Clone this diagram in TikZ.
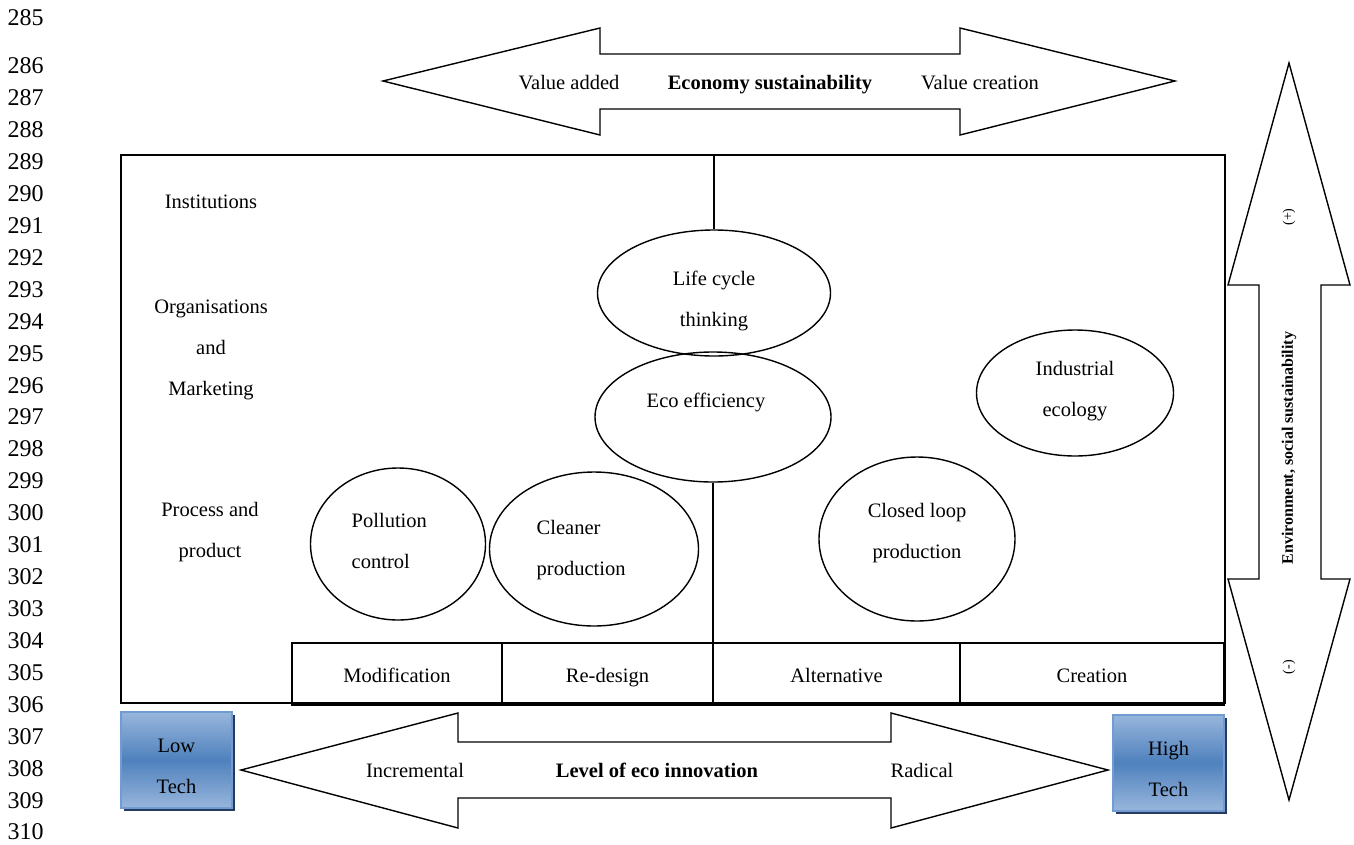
\documentclass[tikz,border=0pt]{standalone}
\usepackage{fontspec}
\setmainfont{Liberation Serif}
\usetikzlibrary{shapes.geometric, shadows}
\definecolor{techlight}{RGB}{152,182,220}
\definecolor{techdark}{RGB}{79,129,189}
\definecolor{techedge}{RGB}{112,156,210}
\definecolor{techshadow}{RGB}{38,58,96}
\tikzstyle{lineno} = [anchor=west, inner sep=0pt, font=\fontsize{24}{28}\selectfont]
\tikzstyle{txt} = [inner sep=0pt, align=center]
\tikzstyle{oneline} = [inner sep=0pt, text height=20pt, text depth=4pt]
\tikzstyle{bubble} = [ellipse, draw, inner sep=0pt]
\tikzstyle{level} = [rectangle, draw, minimum height=62pt, inner sep=0pt, text height=20pt, text depth=4pt]
\tikzstyle{tech} = [rectangle, draw=techedge, line width=2pt, top color=techlight, bottom color=techlight, middle color=techdark, minimum width=111pt, minimum height=96pt, drop shadow={shadow xshift=3pt, shadow yshift=-3pt, fill=techshadow, opacity=1}]
\tikzstyle{blockarrow} = [draw, fill=white, line join=miter]

\begin{document}
\begin{tikzpicture}[x=1pt, y=-1pt, line width=1.4pt, font=\fontsize{20.5}{41}\selectfont]
            \useasboundingbox (0,0) rectangle (1354,844);

            % line numbers of the page
            \node [lineno] (ln285) at (7,18) {285};
            \foreach \n in {286,...,310}
                \node [lineno] (ln\n) at (7,{66+(\n-286)*31.92}) {\n};

            % economy sustainability
            \draw [blockarrow] (383,81) -- (600,28) -- (600,54) -- (960,54) -- (960,28) -- (1175,81)
                -- (960,135) -- (960,109) -- (600,109) -- (600,135) -- cycle;
            \node [oneline] at (569,81) (valueadded) {Value added};
            \node [oneline, font=\fontsize{20.5}{41}\selectfont\bfseries] at (770,81) (economy) {Economy sustainability};
            \node [oneline] at (980,81) (valuecreation) {Value creation};

            % main frame
            \node [draw, minimum width=1104pt, minimum height=548pt, inner sep=0pt] at (673,429) (frame) {};
            \node [oneline] at (211,200) (institutions) {Institutions};
            \node [txt] at (211,350) (organisations) {Organisations\\and\\Marketing};
            \node [txt] at (210,532) (process) {Process and\\product};

            \node [bubble, minimum width=233pt, minimum height=126pt] at (714,293) (life) {};
            \node [txt] at (714,301) (lifetext) {Life cycle\\thinking};
            \node [bubble, minimum width=236pt, minimum height=130pt] at (713,417) (eco) {};
            \node [oneline] at (706,399) (ecotext) {Eco efficiency};
            \node [bubble, minimum width=197pt, minimum height=126pt] at (1075,393) (industrial) {};
            \node [txt] at (1075,391.5) (industrialtext) {Industrial\\ecology};
            \node [bubble, minimum width=175pt, minimum height=152pt] at (398,544) (pollution) {};
            \node [txt, align=left, anchor=west] at (351,541) (pollutiontext) {Pollution\\control};
            \node [bubble, minimum width=209pt, minimum height=154pt] at (594,549) (cleaner) {};
            \node [txt, align=left, anchor=west] at (536,550) (cleanertext) {Cleaner\\production};
            \node [bubble, minimum width=196pt, minimum height=164pt] at (917,539) (closed) {};
            \node [txt] at (917,533) (closedtext) {Closed loop\\production};

            \node [level, minimum width=210pt] at (397,674) (modification) {Modification};
            \node [level, minimum width=211pt] at (607.5,674) (redesign) {Re-design};
            \node [level, minimum width=247pt] at (836.5,674) (alternative) {Alternative};
            \node [level, minimum width=264pt] at (1092,674) (creation) {Creation};

            \draw (life.north |- frame.north) -- (life.north);
            \draw (eco.south) -- (eco.south |- redesign.north);

            % level of eco innovation
            \draw [blockarrow] (241,770) -- (458,713) -- (458,742) -- (891,742) -- (891,713) -- (1108,770)
                -- (891,828) -- (891,798) -- (458,798) -- (458,828) -- cycle;
            \node [oneline] at (415,769) (incremental) {Incremental};
            \node [oneline, font=\fontsize{20.5}{41}\selectfont\bfseries] at (657,769) (level) {Level of eco innovation};
            \node [oneline] at (922,769) (radical) {Radical};

            \node [tech] at (176.5,760) (lowtech) {};
            \node [txt] at (176.5,766) (lowtext) {Low\\Tech};
            \node [tech] at (1168.5,762.5) (hightech) {};
            \node [txt] at (1168.5,769) (hightext) {High\\Tech};

            % environment, social sustainability
            \draw [blockarrow] (1289,63) -- (1350,285) -- (1321,285) -- (1321,579) -- (1350,579) -- (1289,800)
                -- (1228,579) -- (1259,579) -- (1259,285) -- (1228,285) -- cycle;
            \node [txt, rotate=90, font=\fontsize{14}{16}\selectfont] at (1289,217) (plus) {(+)};
            \node [txt, rotate=90, font=\fontsize{16}{19}\selectfont\bfseries] at (1289,448) (envsocial) {Environment, social sustainability};
            \node [txt, rotate=90, font=\fontsize{14}{16}\selectfont] at (1289,667) (minus) {(-)};
\end{tikzpicture}
\end{document}
